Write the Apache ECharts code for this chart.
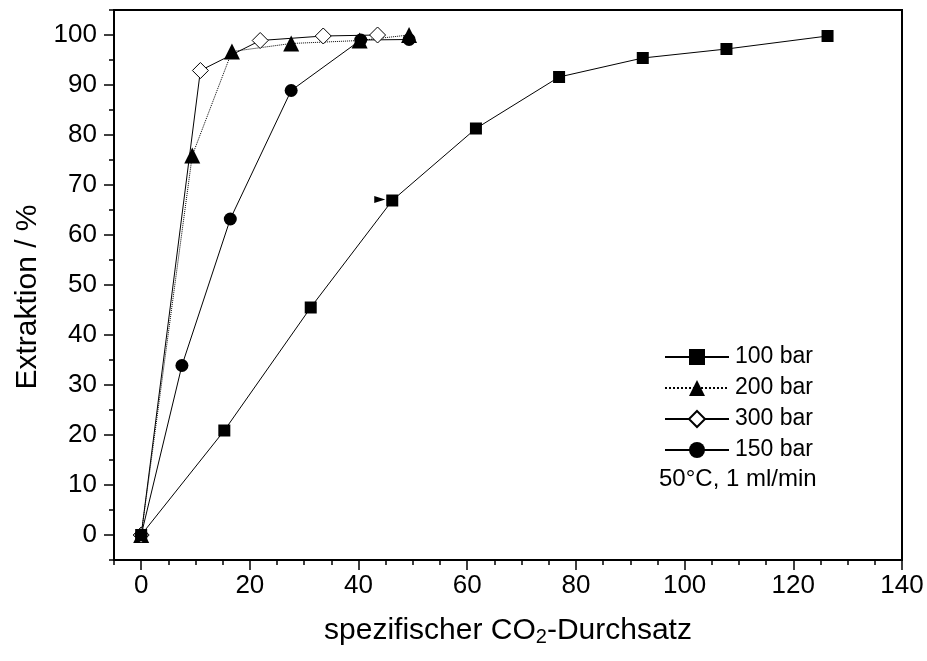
<!DOCTYPE html>
<html>
<head>
<meta charset="utf-8">
<script src="https://cdn.jsdelivr.net/npm/echarts@6/dist/echarts.min.js"></script>
<style>
  html, body { margin: 0; padding: 0; background: #fff; }
  #chart { width: 927px; height: 661px; }
</style>
</head>
<body>
<div id="chart"></div>
<script>
// Extraction yield vs. specific CO2 throughput at 50 °C, 1 ml/min
const x100 = [0, 15.3, 31.2, 46.2, 61.6, 76.9, 92.3, 107.7, 126.3];
const y100 = [0, 20.9, 45.5, 66.9, 81.3, 91.6, 95.4, 97.2, 99.8];
const x200 = [0, 9.4, 16.7, 27.6, 40.2, 49.3];
const y200 = [0, 75.9, 96.7, 98.3, 98.9, 100];
const x300 = [0, 10.9, 21.9, 33.5, 43.5];
const y300 = [0, 92.9, 98.9, 99.8, 100];
const x150 = [0, 7.5, 16.4, 27.6, 40.4, 49.3];
const y150 = [0, 33.9, 63.2, 88.9, 99.0, 99.1];

// small arrow head next to the 100 bar curve
const arrowPoint = [43.9, 67.1];

const xTicks = [0, 20, 40, 60, 80, 100, 120, 140];
const yTicks = [0, 10, 20, 30, 40, 50, 60, 70, 80, 90, 100];

const pair = (xs, ys) => xs.map((x, i) => [x, ys[i]]);

const FONT = "'Liberation Sans', Arial, sans-serif";
const BLACK = '#000';

const chart = echarts.init(document.getElementById('chart'), null, { renderer: 'canvas' });

const lineSeries = (name, xs, ys, symbol, size, fill, dash) => ({
  name,
  type: 'line',
  xAxisIndex: 0,
  yAxisIndex: 0,
  data: pair(xs, ys),
  symbol,
  symbolSize: size,
  showAllSymbol: true,
  lineStyle: { color: BLACK, width: 1, type: dash },
  itemStyle: { color: fill, borderColor: BLACK, borderWidth: fill === '#fff' ? 1 : 0 },
  emphasis: { disabled: true },
  animation: false
});

const s100 = lineSeries('100 bar', x100, y100, 'rect', 12, BLACK, 'solid');
s100.markPoint = {
  symbol: 'triangle',
  symbolSize: [7, 11],
  symbolRotate: -90,
  itemStyle: { color: BLACK },
  label: { show: false },
  data: [{ coord: arrowPoint }],
  animation: false
};

const tickLine = { color: BLACK, width: 1.5 };

chart.setOption({
  backgroundColor: '#fff',
  animation: false,
  textStyle: { fontFamily: FONT, color: BLACK },
  grid: {
    left: 114, right: 25, top: 10, bottom: 101,
    show: true, borderColor: BLACK, borderWidth: 2, backgroundColor: 'transparent'
  },
  xAxis: [
    {
      // minor ticks every 5
      type: 'value', min: -5, max: 140, interval: 5, position: 'bottom',
      axisLine: { show: false, onZero: false },
      axisTick: { show: true, inside: false, length: 5, lineStyle: tickLine },
      axisLabel: { show: false },
      splitLine: { show: false }
    },
    {
      // major ticks, labels and title
      type: 'value', min: -5, max: 140, position: 'bottom',
      axisLine: { show: false, onZero: false },
      axisTick: { show: true, length: 10, customValues: xTicks, lineStyle: tickLine },
      axisLabel: { show: true, customValues: xTicks, margin: 13, fontSize: 26, fontFamily: FONT, color: BLACK },
      splitLine: { show: false },
      name: 'spezifischer CO{sub|2}-Durchsatz',
      nameLocation: 'middle',
      nameGap: 54,
      nameTextStyle: {
        fontSize: 30, fontFamily: FONT, color: BLACK,
        rich: { sub: { fontSize: 20, fontFamily: FONT, color: BLACK, verticalAlign: 'bottom', padding: [13, 0, 0, 0] } }
      }
    }
  ],
  yAxis: [
    {
      type: 'value', min: -5, max: 105, interval: 5, position: 'left',
      axisLine: { show: false, onZero: false },
      axisTick: { show: true, inside: false, length: 5, lineStyle: tickLine },
      axisLabel: { show: false },
      splitLine: { show: false }
    },
    {
      type: 'value', min: -5, max: 105, position: 'left',
      axisLine: { show: false, onZero: false },
      axisTick: { show: true, length: 10, customValues: yTicks, lineStyle: tickLine },
      axisLabel: { show: true, customValues: yTicks, margin: 17, fontSize: 26, fontFamily: FONT, color: BLACK },
      splitLine: { show: false },
      name: 'Extraktion / %',
      nameLocation: 'middle',
      nameGap: 70,
      nameTextStyle: { fontSize: 30, fontFamily: FONT, color: BLACK, padding: [0, 24, 0, 0] }
    }
  ],
  legend: {
    orient: 'vertical',
    left: 659, top: 340,
    itemWidth: 64, itemHeight: 20, itemGap: 7,
    selectedMode: false,
    textStyle: { fontSize: 23, lineHeight: 24, fontFamily: FONT, color: BLACK, padding: [0, 0, 0, 1] },
    data: ['100 bar', '200 bar', '300 bar', '150 bar']
  },
  graphic: [
    {
      type: 'text', left: 659, top: 467,
      style: { text: '50°C, 1 ml/min', fontSize: 24, fontFamily: FONT, fill: BLACK }
    }
  ],
  series: [
    s100,
    lineSeries('200 bar', x200, y200, 'triangle', 16, BLACK, 'dotted'),
    lineSeries('300 bar', x300, y300, 'diamond', 16, '#fff', 'solid'),
    lineSeries('150 bar', x150, y150, 'circle', 13, BLACK, 'solid')
  ]
});
</script>
</body>
</html>
